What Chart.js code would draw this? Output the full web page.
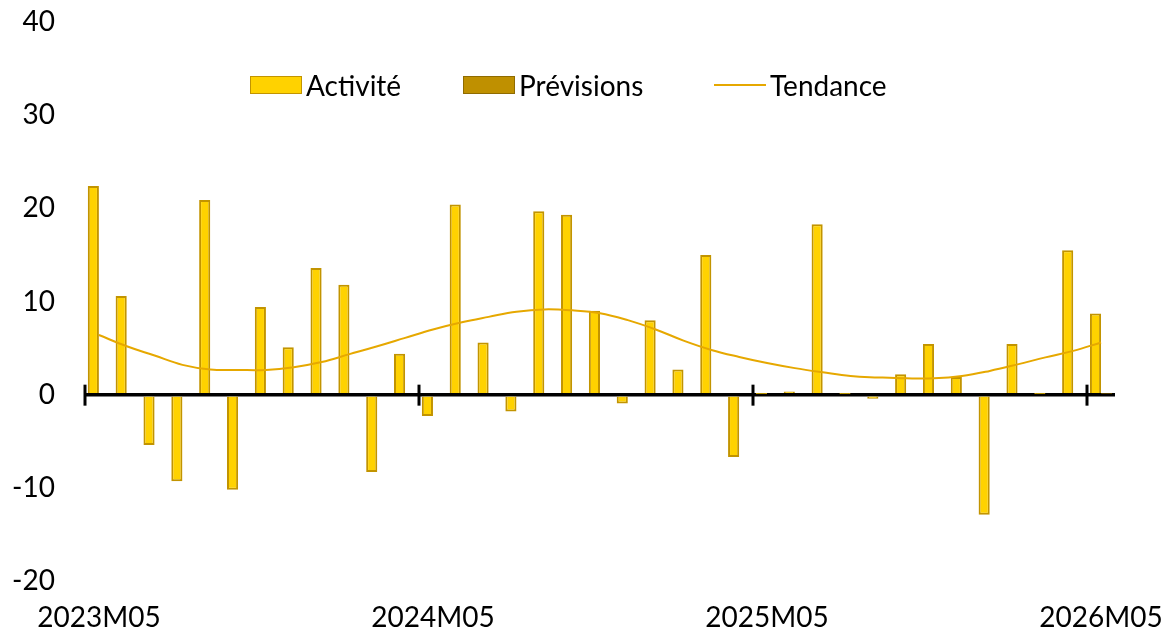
<!DOCTYPE html>
<html>
<head>
<meta charset="utf-8">
<script src="https://cdn.jsdelivr.net/npm/chart.js@4.4.0/dist/chart.umd.min.js"></script>
<style>
  body { margin: 0; background: #fff; }
  #wrap { position: relative; width: 1168px; height: 637px; }
  #legend { position: absolute; top: 0; left: 0; font-family: Lato, sans-serif; font-size: 28px; color: #000; }
  .item { position: absolute; top: 67px; height: 36px; line-height: 36px; white-space: nowrap; }
  .box { position: absolute; top: 9px; width: 50px; height: 16px; }
  .ln { position: absolute; top: 17px; width: 52px; height: 2px; }
  .txt { position: absolute; left: 56px; top: 0; }
</style>
</head>
<body>
<div id="wrap">
  <canvas id="mycanvas" width="1168" height="637"></canvas>
  <div id="legend"></div>
</div>
<script>
var months = ['2023M05','2023M06','2023M07','2023M08','2023M09','2023M10','2023M11','2023M12',
  '2024M01','2024M02','2024M03','2024M04','2024M05','2024M06','2024M07','2024M08','2024M09',
  '2024M10','2024M11','2024M12','2025M01','2025M02','2025M03','2025M04','2025M05','2025M06',
  '2025M07','2025M08','2025M09','2025M10','2025M11','2025M12','2026M01','2026M02','2026M03',
  '2026M04','2026M05'];

var activite = [22.4, 10.6, -5.4, -9.3, 20.9, -10.2, 9.4, 5.1, 13.6, 11.8, -8.3, 4.4,
  -2.3, 20.4, 5.6, -1.8, 19.7, 19.3, 9.0, -0.95, 8.0, 2.7, 15.0, -6.7,
  0.05, 0.35, 18.3, 0.05, -0.45, 2.2, 5.45, 1.9, -12.9, 5.45, 0.05, 15.5, 8.7];

var previsions = [null, null, null, null, null, null, null, null, null, null, null, null,
  null, null, null, null, null, null, null, null, null, null, null, null,
  null, null, null, null, null, null, null, null, null, null, null, null, 0.1];

var tendance = [6.4, 5.2, 4.2, 3.2, 2.7, 2.65, 2.65, 2.95, 3.5, 4.35, 5.2, 6.1,
  7.0, 7.75, 8.35, 8.9, 9.15, 9.05, 8.75, 8.0, 7.0, 5.8, 4.8, 4.05,
  3.4, 2.85, 2.4, 2.0, 1.85, 1.75, 1.75, 2.0, 2.55, 3.25, 4.0, 4.7, 5.6];

var yTicks = [-20, -10, 0, 10, 20, 30, 40];
var labelEvery = 12;

var font = { family: 'Lato', size: 28 };
var clear = 'rgba(0,0,0,0)';

// small tick marks on the zero line, every 12 months
var zeroTicks = {
  id: 'zeroTicks',
  afterDatasetsDraw: function(chart) {
    var x = chart.scales.x, y = chart.scales.y;
    var half = (x.getPixelForValue(1) - x.getPixelForValue(0)) / 2;
    var y0 = y.getPixelForValue(0);
    var ctx = chart.ctx;
    ctx.save();
    ctx.strokeStyle = '#000';
    ctx.lineWidth = 3;
    for (var i = 0; i < months.length; i += labelEvery) {
      var px = Math.round(x.getPixelForValue(i) - half);
      ctx.beginPath();
      ctx.moveTo(px, y0 - 10);
      ctx.lineTo(px, y0 + 11);
      ctx.stroke();
    }
    ctx.restore();
  }
};

var chartdata = {
  labels: months,
  datasets: [
    {
      type: 'line',
      label: 'Tendance',
      data: tendance,
      borderColor: '#E6A800',
      borderWidth: 2,
      pointRadius: 0,
      tension: 0.4,
      fill: false,
      order: 0
    },
    {
      type: 'bar',
      label: 'Activité',
      data: activite,
      backgroundColor: '#FFD200',
      borderColor: '#C29400',
      borderWidth: 2,
      barPercentage: 1,
      categoryPercentage: 0.8,
      order: 1
    },
    {
      type: 'bar',
      label: 'Prévisions',
      data: previsions,
      backgroundColor: '#BF9000',
      borderColor: '#8F6B00',
      borderWidth: 2,
      barPercentage: 1,
      categoryPercentage: 0.8,
      order: 1
    }
  ]
};

var ctx = document.getElementById('mycanvas');

var barGraph = new Chart(ctx, {
  data: chartdata,
  options: {
    responsive: false,
    animation: false,
    layout: { padding: { top: 22, right: 53, left: 0, bottom: 0 } },
    plugins: {
      legend: { display: false },
      tooltip: { enabled: false }
    },
    scales: {
      x: {
        offset: true,
        grid: { display: true, drawOnChartArea: false, color: clear, tickColor: clear, tickLength: 20 },
        border: { display: false },
        ticks: {
          font: font,
          color: '#000',
          autoSkip: false,
          maxRotation: 0,
          padding: 0,
          callback: function(v, i) { return i % labelEvery === 0 ? months[i] : ''; }
        },
        afterFit: function(s) { s.height = 56; }
      },
      y: {
        min: yTicks[0],
        max: yTicks[yTicks.length - 1],
        border: { display: false },
        grid: {
          drawTicks: true,
          tickLength: 30,
          tickColor: clear,
          lineWidth: 3.5,
          color: function(c) { return c.tick && c.tick.value === 0 ? '#000' : clear; }
        },
        afterBuildTicks: function(s) { s.ticks = yTicks.map(function(v) { return { value: v }; }); },
        ticks: {
          font: font,
          color: '#000',
          padding: 0
        },
        afterFit: function(s) { s.width = 85; }
      }
    }
  },
  plugins: [zeroTicks]
});

// legend built from the datasets
var legendPos = { 'Activité': 250, 'Prévisions': 463, 'Tendance': 714 };
var order = [1, 2, 0];
var lg = document.getElementById('legend');
order.forEach(function(k) {
  var ds = chartdata.datasets[k];
  var it = document.createElement('div');
  it.className = 'item';
  it.style.left = legendPos[ds.label] + 'px';
  var mark = document.createElement('div');
  if (ds.type === 'line') {
    mark.className = 'ln';
    mark.style.background = ds.borderColor;
  } else {
    mark.className = 'box';
    mark.style.background = ds.backgroundColor;
    mark.style.border = '1px solid ' + ds.borderColor;
  }
  var t = document.createElement('span');
  t.className = 'txt';
  t.textContent = ds.label;
  it.appendChild(mark);
  it.appendChild(t);
  lg.appendChild(it);
});
</script>
</body>
</html>
